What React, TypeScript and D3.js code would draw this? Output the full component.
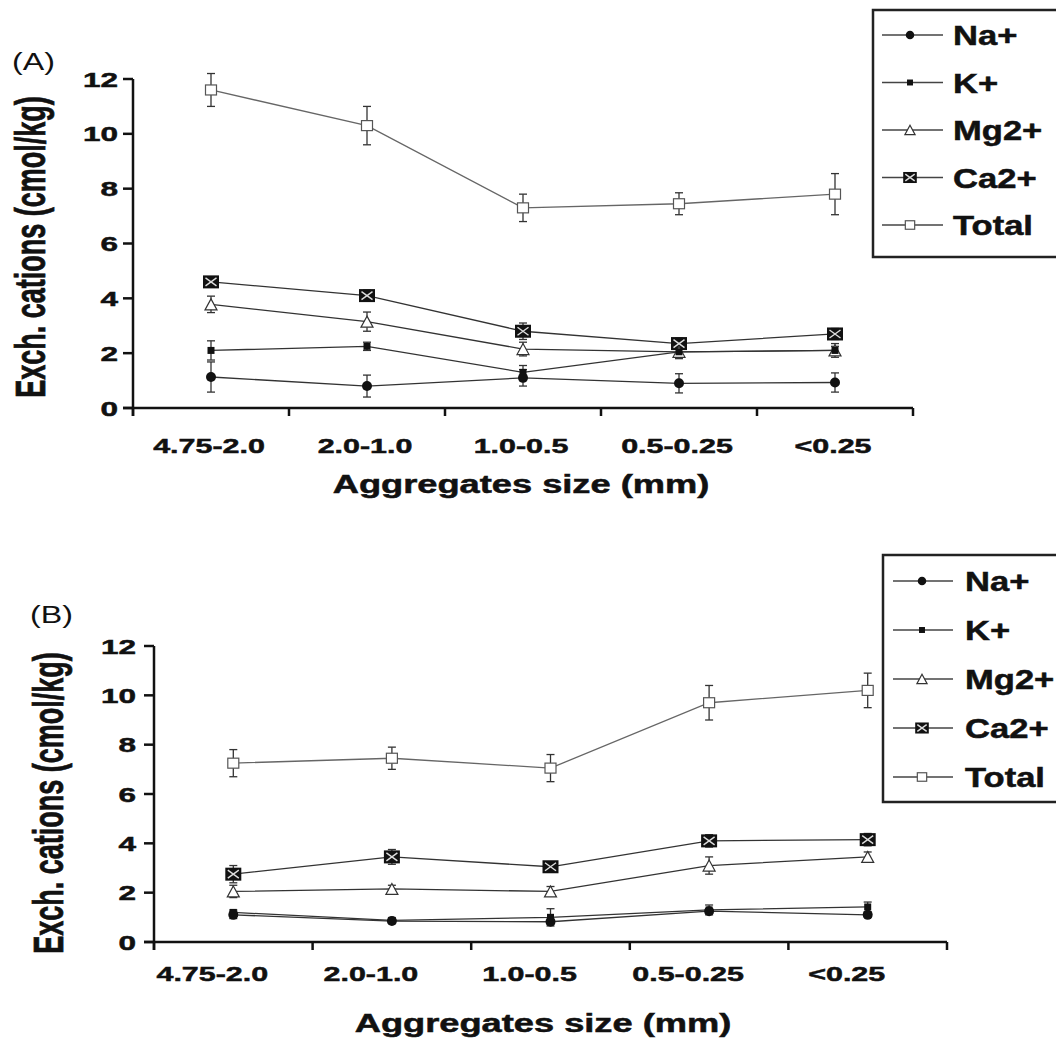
import React from 'react'
import * as d3 from 'd3'

const categories = ['4.75-2.0', '2.0-1.0', '1.0-0.5', '0.5-0.25', '<0.25']
const seriesNames = ['Na+', 'K+', 'Mg2+', 'Ca2+', 'Total']
const yTicks = [0, 2, 4, 6, 8, 10, 12]

// (A) values and error bars
const naA = [1.13, 0.8, 1.1, 0.9, 0.93]
const naAErr = [0.55, 0.4, 0.3, 0.35, 0.35]
const kA = [2.1, 2.25, 1.3, 2.05, 2.1]
const kAErr = [0.35, 0.15, 0.25, 0.15, 0.15]
const mgA = [3.78, 3.15, 2.15, 2.05, 2.1]
const mgAErr = [0.3, 0.35, 0.25, 0.25, 0.25]
const caA = [4.6, 4.1, 2.8, 2.35, 2.7]
const caAErr = [0.15, 0.2, 0.3, 0.2, 0.2]
const totalA = [11.6, 10.3, 7.3, 7.45, 7.8]
const totalAErr = [0.6, 0.7, 0.5, 0.4, 0.75]

// (B) values and error bars
const naB = [1.1, 0.85, 0.82, 1.25, 1.1]
const naBErr = [0.15, 0.1, 0.1, 0.1, 0.1]
const kB = [1.2, 0.88, 1.0, 1.3, 1.42]
const kBErr = [0.1, 0.1, 0.35, 0.2, 0.2]
const mgB = [2.05, 2.15, 2.05, 3.1, 3.45]
const mgBErr = [0.25, 0.15, 0.2, 0.35, 0.2]
const caB = [2.75, 3.45, 3.05, 4.1, 4.15]
const caBErr = [0.35, 0.3, 0.15, 0.25, 0.25]
const totalB = [7.25, 7.45, 7.05, 9.7, 10.2]
const totalBErr = [0.55, 0.45, 0.55, 0.7, 0.7]

const FONT = '"Liberation Sans", Arial, Helvetica, sans-serif'
const SX = 1.35

const panels = [
  {
    label: '(A)', labelX: 12, labelY: 70,
    left: 133, right: 913, bottom: 408, top: 79,
    tickEnd: 118, xLabelY: 453, xLabelShift: -2,
    xTitleX: 521, xTitleY: 493, yTitleX: 45, yTitleY: 247,
    legend: { x: 873, y: 10, h: 247, line0: 882, line1: 943, sym: 910, text: 953, row0: 35, dy: 47.5 },
    values: [naA, kA, mgA, caA, totalA],
    errors: [naAErr, kAErr, mgAErr, caAErr, totalAErr],
  },
  {
    label: '(B)', labelX: 30, labelY: 623,
    left: 154, right: 947, bottom: 942, top: 646,
    tickEnd: 136, xLabelY: 981, xLabelShift: -21,
    xTitleX: 543, xTitleY: 1032, yTitleX: 63, yTitleY: 803,
    legend: { x: 883, y: 555, h: 247, line0: 893, line1: 953, sym: 922, text: 965, row0: 581, dy: 49 },
    values: [naB, kB, mgB, caB, totalB],
    errors: [naBErr, kBErr, mgBErr, caBErr, totalBErr],
  },
]

function Marker({ name, x, y, k = 1 }) {
  if (name === 'Na+') return <circle cx={x} cy={y} r={5 * k} fill="#111" />
  if (name === 'K+') return <rect x={x - 3.5 * k} y={y - 3.5 * k} width={7 * k} height={7 * k} fill="#111" />
  if (name === 'Mg2+') {
    const w = 6 * k, h = 5.5 * k
    return <path d={`M${x},${y - h}L${x + w},${y + h}L${x - w},${y + h}Z`} fill="#fff" stroke="#333" strokeWidth={1.2} />
  }
  if (name === 'Ca2+') {
    const w = 8 * k, h = 6.5 * k, i = 2.5 * k
    return (
      <g>
        <rect x={x - w} y={y - h} width={2 * w} height={2 * h} fill="#111" />
        <path d={`M${x - w + i},${y - h + i}L${x + w - i},${y + h - i}M${x + w - i},${y - h + i}L${x - w + i},${y + h - i}`}
          stroke="#ddd" strokeWidth={1.4} />
      </g>
    )
  }
  return <rect x={x - 5.5 * k} y={y - 5 * k} width={11 * k} height={10 * k} fill="#fff" stroke="#555" strokeWidth={1.2} />
}

function SText({ x, y, size, anchor = 'start', weight = 'bold', sx = SX, children }) {
  return (
    <text transform={`translate(${x},${y}) scale(${sx},1)`} fontSize={size} fontWeight={weight}
      fontFamily={FONT} textAnchor={anchor} fill="#111"
      stroke={weight === 'bold' ? '#111' : 'none'} strokeWidth={0.5}>{children}</text>
  )
}

function Panel({ p }) {
  const x = d3.scaleBand().domain(categories).range([p.left, p.right])
  const y = d3.scaleLinear().domain([0, 12]).range([p.bottom, p.top])
  const cx = (c) => x(c) + x.bandwidth() / 2
  const bounds = categories.map((c) => x(c)).concat([p.right])
  const line = d3.line().x((d, i) => cx(categories[i])).y((d) => y(d))
  const order = [4, 3, 2, 1, 0]
  const lg = p.legend
  return (
    <g>
      <SText x={p.labelX} y={p.labelY} size={23} weight="normal" sx={1.4}>{p.label}</SText>
      <text transform={`translate(${p.yTitleX},${p.yTitleY}) scale(1.55,1) rotate(-90)`} fontSize={27}
        fontWeight="bold" fontFamily={FONT} textAnchor="middle" fill="#111" stroke="#111" strokeWidth={0.5}>
        Exch. cations (cmol/kg)
      </text>
      {/* axes */}
      <line x1={p.left} x2={p.left} y1={p.top} y2={p.bottom + 8} stroke="#111" strokeWidth={2.5} />
      <line x1={p.left - 10} x2={p.right} y1={p.bottom} y2={p.bottom} stroke="#111" strokeWidth={2.5} />
      {yTicks.map((t) => (
        <g key={t}>
          <line x1={p.left - 10} x2={p.left} y1={y(t)} y2={y(t)} stroke="#111" strokeWidth={2.5} />
          <SText x={p.tickEnd} y={y(t) + 7.5} size={21} anchor="end" sx={1.5}>{t}</SText>
        </g>
      ))}
      {bounds.map((b, i) => (
        <line key={i} x1={b} x2={b} y1={p.bottom} y2={p.bottom + 8} stroke="#111" strokeWidth={2.5} />
      ))}
      {categories.map((c) => (
        <SText key={c} x={cx(c) + p.xLabelShift} y={p.xLabelY} size={21} anchor="middle" sx={1.45}>{c}</SText>
      ))}
      <SText x={p.xTitleX} y={p.xTitleY} size={25} anchor="middle" sx={1.45}>Aggregates size (mm)</SText>
      {/* series */}
      {order.map((si) => (
        <path key={si} d={line(p.values[si])} fill="none" stroke={si === 4 ? '#666' : '#333'} strokeWidth={1.3} />
      ))}
      {order.map((si) => p.values[si].map((v, i) => {
        const xx = cx(categories[i])
        const e = p.errors[si][i]
        return (
          <g key={`${si}-${i}`} stroke="#333" strokeWidth={1.3}>
            <line x1={xx} x2={xx} y1={y(v - e)} y2={y(v + e)} />
            <line x1={xx - 4} x2={xx + 4} y1={y(v - e)} y2={y(v - e)} />
            <line x1={xx - 4} x2={xx + 4} y1={y(v + e)} y2={y(v + e)} />
          </g>
        )
      }))}
      {order.map((si) => p.values[si].map((v, i) => (
        <Marker key={`m${si}-${i}`} name={seriesNames[si]} x={cx(categories[i])} y={y(v)} />
      )))}
      {/* legend */}
      <rect x={lg.x} y={lg.y} width={1100 - lg.x} height={lg.h} fill="#fff" stroke="#222" strokeWidth={2.5} />
      {seriesNames.map((n, i) => {
        const ry = lg.row0 + i * lg.dy
        return (
          <g key={n}>
            <line x1={lg.line0} x2={lg.line1} y1={ry} y2={ry} stroke="#444" strokeWidth={1.3} />
            <Marker name={n} x={lg.sym} y={ry} k={0.85} />
            <SText x={lg.text} y={ry + 10} size={27} sx={1.28}>{n}</SText>
          </g>
        )
      })}
    </g>
  )
}

export default function App() {
  return (
    <div style={{ position: 'absolute', left: 0, top: 0 }}>
      <svg width={1056} height={1041} style={{ display: 'block', background: '#fff' }}>
        {panels.map((p) => <Panel key={p.label} p={p} />)}
      </svg>
    </div>
  )
}
